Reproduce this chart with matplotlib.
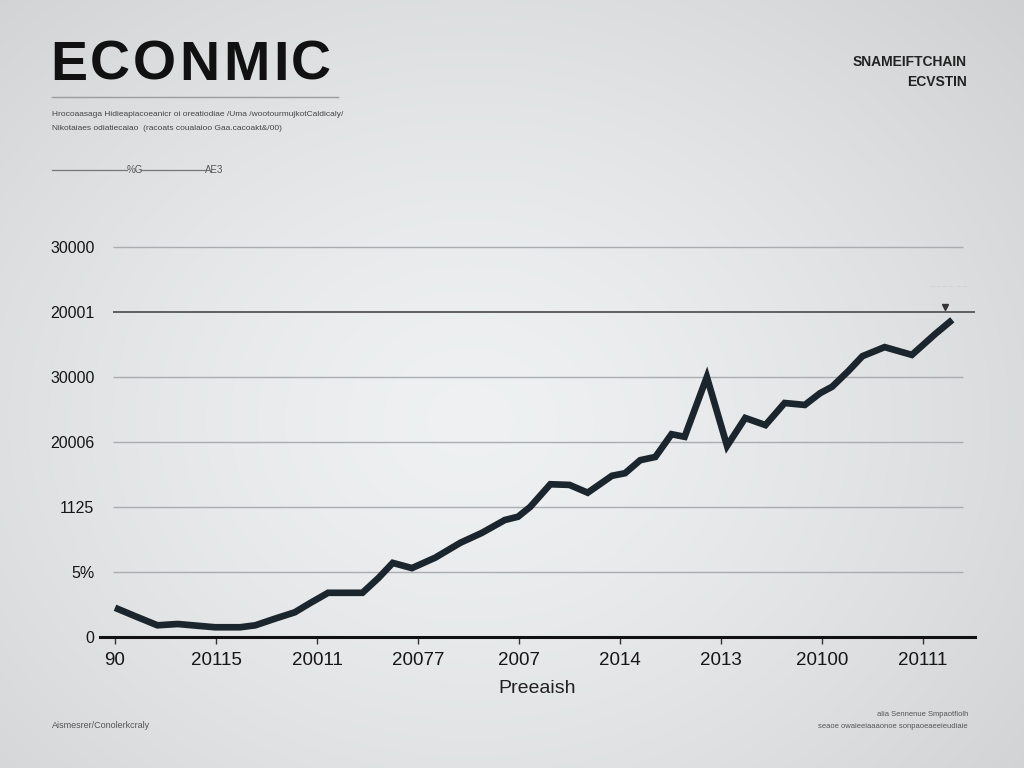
import numpy as np
import matplotlib
matplotlib.use("Agg")
import matplotlib.pyplot as plt

# ---- data ----
x_tick_labels = ["90", "20115", "20011", "20077", "2007", "2014", "2013", "20100", "20111"]
y_tick_labels = ["0", "5%", "1125", "20006", "30000", "20001", "30000"]
series_x = [0.00, 0.20, 0.42, 0.62, 0.84, 0.99, 1.24, 1.39, 1.58, 1.78, 1.93, 2.11,
            2.28, 2.45, 2.61, 2.75, 2.94, 3.17, 3.42, 3.63, 3.86, 3.99, 4.11, 4.31,
            4.50, 4.68, 4.92, 5.05, 5.20, 5.35, 5.51, 5.64, 5.86, 6.06, 6.24, 6.44,
            6.63, 6.83, 6.98, 7.10, 7.26, 7.40, 7.62, 7.89, 8.12, 8.29]
series_y = [0.45, 0.32, 0.18, 0.20, 0.17, 0.15, 0.15, 0.18, 0.28, 0.38, 0.52, 0.68,
            0.68, 0.68, 0.91, 1.14, 1.06, 1.22, 1.45, 1.60, 1.80, 1.85, 2.00, 2.35,
            2.34, 2.22, 2.48, 2.52, 2.72, 2.77, 3.12, 3.08, 4.00, 2.94, 3.37, 3.26,
            3.60, 3.57, 3.75, 3.85, 4.09, 4.32, 4.46, 4.34, 4.66, 4.88]
title = "ECONMIC"

W, H = 1024, 768
fig = plt.figure(figsize=(W / 100, H / 100), dpi=100)

# background radial gradient
bg = fig.add_axes([0, 0, 1, 1], zorder=-10)
yy, xx = np.mgrid[0:H, 0:W]
r = np.sqrt(((xx - 470) / 620.0) ** 2 + ((yy - 420) / 520.0) ** 2)
val = np.clip(0.95 - 0.10 * r ** 1.4, 0.81, 0.955)
img = np.dstack([val * 0.985, val * 0.995, val * 1.0])
bg.imshow(np.clip(img, 0, 1), extent=[0, 1, 0, 1], aspect="auto", origin="upper")
bg.axis("off")

def fx(px):
    return px / W

def fy(py):
    return 1 - py / H

# plot axes
px_per_x = 101.0
px_per_y = 65.0
ax_left, ax_right, ax_bottom = 100, 975, 637
ymax = 6.3
ax = fig.add_axes([fx(ax_left), fy(ax_bottom), (ax_right - ax_left) / W, ymax * px_per_y / H])
ax.patch.set_alpha(0)
ax.set_xlim((ax_left - 115) / px_per_x, (ax_right - 115) / px_per_x)
ax.set_ylim(0, ymax)
for s in ["top", "right", "left"]:
    ax.spines[s].set_visible(False)
ax.spines["bottom"].set_linewidth(2.2)
ax.spines["bottom"].set_color("#111111")

x0 = (113 - 115) / px_per_x
x1 = (963 - 115) / px_per_x
for i in range(1, 7):
    if i == 5:
        ax.hlines(i, x0, (977 - 115) / px_per_x, color="#555555", lw=1.3, zorder=1)
    else:
        ax.hlines(i, x0, x1, color="#a9adb0", lw=1.0, zorder=1)

ax.set_yticks(range(7))
ax.set_yticklabels(y_tick_labels, fontsize=11.5, color="#161616", family="Liberation Sans")
ax.tick_params(axis="y", length=0, pad=4)
ax.set_xticks(range(len(x_tick_labels)))
ax.set_xticklabels(x_tick_labels, fontsize=13.5, color="#161616", family="Liberation Sans")
ax.tick_params(axis="x", length=5, width=1, color="#333333", pad=6)

ax.plot(series_x, series_y, color="#1b252d", lw=4.8, solid_joinstyle="miter",
        solid_capstyle="butt", zorder=3)
ax.plot([8.22], [5.08], marker="v", color="#333333", ms=5, zorder=4)
ax.text(8.25, 5.35, "~~~~ ~~", fontsize=5, color="#c8cacc", ha="center")

ax.set_xlabel("Preeaish", fontsize=14, color="#222222", family="Liberation Sans", labelpad=8)

# title block (letters spaced as in the reference, centred on their ink boxes)
letter_centres = [69, 110, 154, 199, 246, 281, 311]
for ch, px in zip(title, letter_centres):
    fig.text(fx(px), fy(66), ch, fontsize=40, fontweight="bold", family="Liberation Sans",
             color="#111111", va="center", ha="center")
fig.add_artist(plt.Line2D([fx(52), fx(338)], [fy(97), fy(97)], color="#9a9c9e", lw=1))
fig.text(fx(52), fy(115), "Hrocoaasaga Hidieapiacoeanicr oi oreatiodiae /Uma /wootourmujkotCaldicaly/",
         fontsize=6, color="#444444", va="center", family="Liberation Sans")
fig.text(fx(52), fy(128), "Nikotaiaes odiatiecaiao  (racoats coualaioo Gaa.cacoakt&/00)",
         fontsize=6, color="#444444", va="center", family="Liberation Sans")
fig.add_artist(plt.Line2D([fx(52), fx(127)], [fy(170), fy(170)], color="#777777", lw=0.9))
fig.text(fx(127), fy(170), "%G", fontsize=7, color="#555555", va="center", family="Liberation Sans")
fig.add_artist(plt.Line2D([fx(141), fx(205)], [fy(170), fy(170)], color="#777777", lw=0.9))
fig.text(fx(205), fy(170), "AE3", fontsize=7, color="#555555", va="center", family="Liberation Sans")

fig.text(fx(967), fy(62), "SNAMEIFTCHAIN", fontsize=10, fontweight="bold", color="#222222",
         ha="right", va="center", family="Liberation Sans")
fig.text(fx(967), fy(82), "ECVSTIN", fontsize=10, fontweight="bold", color="#222222",
         ha="right", va="center", family="Liberation Sans")

fig.text(fx(52), fy(726), "Aismesrer/Conolerkcraly", fontsize=6.5, color="#555555",
         va="center", family="Liberation Sans")
fig.text(fx(968), fy(715), "alia Sennenue Smpaotfiolh", fontsize=5.5, color="#555555",
         ha="right", va="center", family="Liberation Sans")
fig.text(fx(968), fy(727), "seaoe owaieeiaaaonoe sonpaoeaeeieudiaie", fontsize=5.5, color="#555555",
         ha="right", va="center", family="Liberation Sans")

fig.savefig("out.png", dpi=100)
